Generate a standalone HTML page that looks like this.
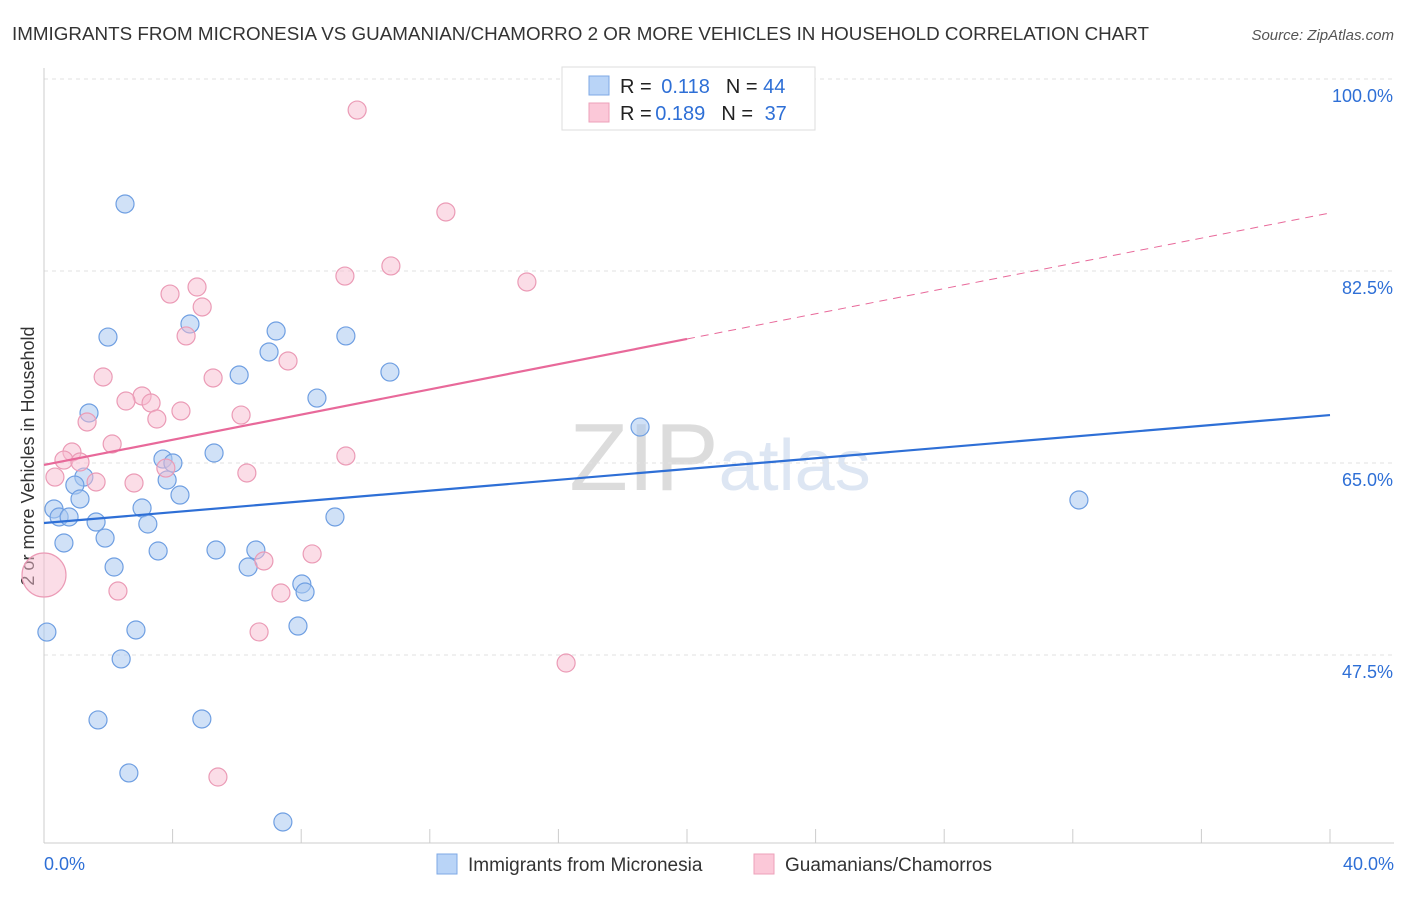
<!DOCTYPE html>
<html><head><meta charset="utf-8"><style>
body{margin:0;background:#fff;font-family:"Liberation Sans",sans-serif;}
svg text{font-family:"Liberation Sans",sans-serif;}
</style></head><body>
<svg id="chart" width="1406" height="892">
<text x="12" y="40" font-size="18" fill="#333" textLength="1137" lengthAdjust="spacingAndGlyphs">IMMIGRANTS FROM MICRONESIA VS GUAMANIAN/CHAMORRO 2 OR MORE VEHICLES IN HOUSEHOLD CORRELATION CHART</text>
<text x="1394" y="40" font-size="15" fill="#555" text-anchor="end" font-style="italic">Source: ZipAtlas.com</text>
<text x="720" y="490" font-size="96" fill="#e6e6e6" text-anchor="middle" font-family="Liberation Serif"><tspan fill="#dcdcdc">ZIP</tspan><tspan fill="#dde6f3" font-family="Liberation Sans" font-size="72">atlas</tspan></text>
<text transform="translate(34,456) rotate(-90)" font-size="18" fill="#333" text-anchor="middle">2 or more Vehicles in Household</text>
<g id="grid"></g><g id="marks"></g>
<g>
<rect x="562" y="67" width="253" height="63" fill="#fff" stroke="#ddd"/>
<rect x="589" y="76" width="20" height="19" fill="#b9d4f7" stroke="#7ea8e6"/>
<rect x="589" y="103" width="20" height="19" fill="#fbc8d8" stroke="#eca1ba"/>
<text x="620" y="93" font-size="20" fill="#222">R = <tspan fill="#2e6fd6" dx="4">0.118</tspan><tspan fill="#222" dx="16">N = </tspan><tspan fill="#2e6fd6">44</tspan></text>
<text x="620" y="120" font-size="20" fill="#222">R = <tspan fill="#2e6fd6" dx="-2">0.189</tspan><tspan fill="#222" dx="16">N = </tspan><tspan fill="#2e6fd6" dx="6">37</tspan></text>
</g>
<g>
<rect x="437" y="854" width="20" height="20" fill="#b9d4f7" stroke="#7ea8e6"/>
<text x="468" y="871" font-size="19" fill="#333">Immigrants from Micronesia</text>
<rect x="754" y="854" width="20" height="20" fill="#fbc8d8" stroke="#eca1ba"/>
<text x="785" y="871" font-size="19" fill="#333">Guamanians/Chamorros</text>
</g>
</svg>
<script>
const yTicks=[47.5,65,82.5,100];
const yTickLabels=["47.5%","65.0%","82.5%","100.0%"];
const xLabels=["0.0%","40.0%"];
const blueX=[2.52,1.99,4.54,7.22,9.39,7.00,6.07,10.76,8.49,1.40,5.29,3.70,4.01,1.24,3.83,0.96,1.12,4.23,0.31,3.05,0.47,0.78,1.62,3.23,9.05,0.62,1.90,3.55,5.35,6.59,2.18,6.35,8.02,8.12,7.90,0.09,2.86,2.40,1.68,4.91,2.64,7.43,18.54,32.19];
const blueY=[88.61,76.48,77.67,77.03,76.58,75.12,73.02,73.29,70.92,69.56,65.91,65.36,65.00,63.72,63.45,62.99,61.72,62.08,60.81,60.90,60.08,60.08,59.62,59.44,60.08,57.71,58.16,56.98,57.07,57.07,55.52,55.52,53.97,53.24,50.14,49.59,49.78,47.14,41.58,41.67,36.75,32.28,68.28,61.63];
const pinkX=[9.74,12.50,10.79,9.36,15.02,3.92,4.76,4.92,4.42,7.59,1.84,5.26,3.05,2.55,3.33,4.26,6.13,3.51,1.34,2.12,0.87,0.62,1.12,3.79,0.34,9.39,6.31,1.62,2.80,0.0,6.84,8.34,2.30,7.37,6.69,16.24,5.41];
const pinkY=[97.17,87.88,82.96,82.04,81.50,80.40,81.04,79.22,76.58,74.30,72.84,72.75,71.11,70.65,70.47,69.74,69.37,69.01,68.74,66.73,66.00,65.27,65.09,64.54,63.72,65.64,64.09,63.27,63.18,54.79,56.07,56.71,53.33,53.15,49.60,46.77,36.38];
const pinkR=[9,9,9,9,9,9,9,9,9,9,9,9,9,9,9,9,9,9,9,9,9,9,9,9,9,9,9,9,9,22,9,9,9,9,9,9,9];
const blueTrend=[59.53,69.37];
const pinkTrend=[64.82,87.79];
const pinkSolidEnd=20;
const NS="http://www.w3.org/2000/svg";
const X=v=>44+v/40*1286;
const Y=v=>463-(v-65)*192/17.5;
function mk(t,a,p){const e=document.createElementNS(NS,t);for(const k in a)e.setAttribute(k,a[k]);p.appendChild(e);return e;}
const grid=document.getElementById('grid'),marks=document.getElementById('marks');
yTicks.forEach((t,i)=>{
 const l=mk('line',{x1:44,x2:1394,y1:Y(t),y2:Y(t),stroke:'#e2e2e2','stroke-dasharray':'4,4'},grid);
 
 
 const tx=mk('text',{x:1393,y:Y(t)+23,'font-size':18,fill:'#2e6fd6','text-anchor':'end'},grid);
 tx.textContent=yTickLabels[i];
 
 
});
const ax=mk('line',{x1:44,x2:1394,y1:843,y2:843,stroke:'#ccc'},grid);


const ay=mk('line',{x1:44,x2:44,y1:68,y2:843,stroke:'#ccc'},grid);


for(let i=0;i<=10;i++){const t=mk('line',{x1:X(i*4),x2:X(i*4),y1:829,y2:843,stroke:'#ccc'},grid);
 
 }
[[0,'start',44],[40,'end',1394]].forEach((d,i)=>{const t=mk('text',{x:d[2],y:870,'font-size':18,fill:'#2e6fd6','text-anchor':d[1]},grid);t.textContent=xLabels[i];
 
 });
blueX.forEach((x,i)=>{const c=mk('circle',{cx:X(x),cy:Y(blueY[i]),r:9,fill:'#a9c8f1','fill-opacity':0.55,stroke:'#6f9fe2','stroke-width':1.2},marks);
 
 });
pinkX.forEach((x,i)=>{const c=mk('circle',{cx:X(x),cy:Y(pinkY[i]),r:pinkR[i],fill:'#f7bccf','fill-opacity':0.5,stroke:'#eb9bb6','stroke-width':1.2},marks);
 
 });
const bl=mk('line',{x1:X(0),y1:Y(blueTrend[0]),x2:X(40),y2:Y(blueTrend[1]),stroke:'#2e6fd6','stroke-width':2.2},marks);


const pAt=x=>pinkTrend[0]+(pinkTrend[1]-pinkTrend[0])*x/40;
const pl=mk('line',{x1:X(0),y1:Y(pAt(0)),x2:X(pinkSolidEnd),y2:Y(pAt(pinkSolidEnd)),stroke:'#e8699a','stroke-width':2.2},marks);


const pd=mk('line',{x1:X(pinkSolidEnd),y1:Y(pAt(pinkSolidEnd)),x2:X(40),y2:Y(pAt(40)),stroke:'#e8699a','stroke-width':1,'stroke-dasharray':'8,6'},marks);


</script>
</body></html>
